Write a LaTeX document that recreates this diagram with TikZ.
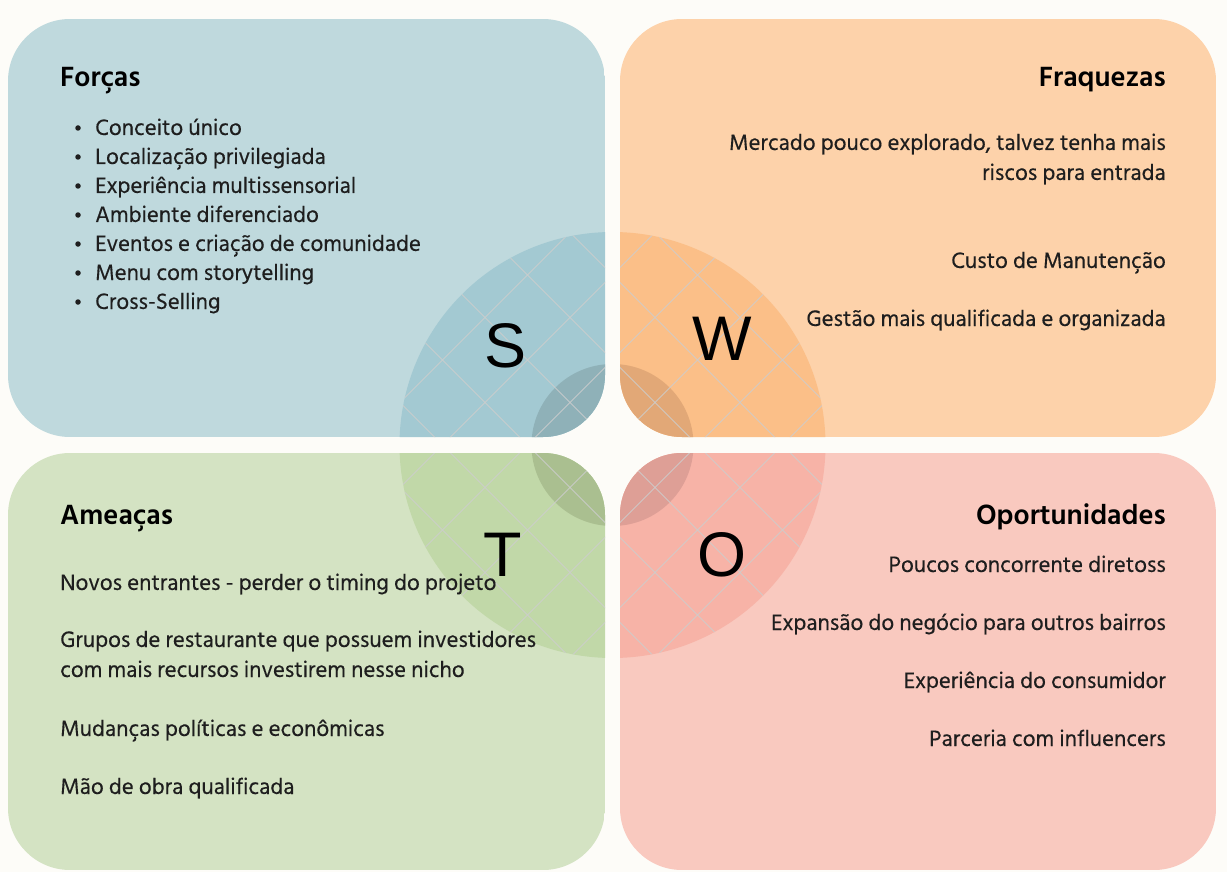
\documentclass[tikz,border=0pt]{standalone}
\usepackage{fontspec}
\setmainfont{Hind Siliguri}
\newfontfamily\bodyfont{Hind Siliguri}[FakeBold=0.3]
\newfontfamily\letterfont{Liberation Sans}

\definecolor{pagebg}{HTML}{FDFCF8}
\definecolor{sbox}{HTML}{BFD9DD}
\definecolor{sring}{HTML}{A3C9D2}
\definecolor{score}{HTML}{8FB1B8}
\definecolor{wbox}{HTML}{FDD2AA}
\definecolor{wring}{HTML}{FBBF88}
\definecolor{wcore}{HTML}{E2A877}
\definecolor{tbox}{HTML}{D4E3C3}
\definecolor{tring}{HTML}{C1D8A8}
\definecolor{tcore}{HTML}{AABF90}
\definecolor{obox}{HTML}{F9C9BF}
\definecolor{oring}{HTML}{F7B3A7}
\definecolor{ocore}{HTML}{DE9F96}
\definecolor{gridgray}{HTML}{CDCDCD}
\definecolor{bodytext}{HTML}{1E1E1E}

% one quadrant: rounded panel with its slice of the central disc and lattice
\newcommand\swotpanel[5]{%
  \begin{scope}
    \clip[rounded corners=62pt] #1 rectangle #2;
    \fill[#3] #1 rectangle #2;
    \fill[#4] (612.5,445) circle (213);
    \fill[#5] (612.5,445) circle (81);
    \begin{scope}
      \clip (612.5,445) circle (213);
      \foreach \k in {-3,...,3}{
        \draw[lattice] (350,{350-167.5-85*\k}) -- (880,{880-167.5-85*\k});
        \draw[lattice] (350,{1057.5+85*\k-350}) -- (880,{1057.5+85*\k-880});
      }
    \end{scope}
  \end{scope}}

\begin{document}
\begin{tikzpicture}[x=1pt,y=-1pt,
  lattice/.style={draw=gridgray, line width=0.8pt, opacity=0.85},
  body/.style={font=\bodyfont\fontsize{22.8}{26}\selectfont, text=bodytext, inner sep=0pt},
  heading/.style={font=\fontsize{28.5}{32}\selectfont\bfseries, text=black, inner sep=0pt},
  letter/.style={font=\letterfont\fontsize{63}{70}\selectfont, text=black, inner sep=0pt},
  dot/.style={circle, fill=bodytext, inner sep=0pt, minimum size=5.5pt}]

\fill[pagebg] (0,0) rectangle (1227,872);
\useasboundingbox (0,0) rectangle (1227,872);

\swotpanel{(8,19)}{(605,437)}{sbox}{sring}{score}
\swotpanel{(620,19)}{(1216,437)}{wbox}{wring}{wcore}
\swotpanel{(8,453)}{(605,870)}{tbox}{tring}{tcore}
\swotpanel{(620,453)}{(1216,870)}{obox}{oring}{ocore}

% letters
\node[letter] (S) at (506,346) {S};
\node[letter] (W) at (722,339) {W};
\node[letter] (T) at (503,555) {T};
\node[letter] (O) at (722,555) {O};

% Forças
\node[heading, anchor=base west] (forcas) at (60,87) {Forças};
\foreach \txt [count=\i] in {Conceito único, Localização privilegiada,
  Experiência multissensorial, Ambiente diferenciado,
  Eventos e criação de comunidade, Menu com storytelling, Cross-Selling}{
  \node[body, anchor=base west] (f\i) at (95,{135+29*(\i-1)}) {\txt};
  \node[dot] (fd\i) at (78,{128+29*(\i-1)}) {};
}

% Fraquezas
\node[heading, anchor=base east] (fraquezas) at (1166,87) {Fraquezas};
\node[body, anchor=base east] (w1a) at (1166,150) {Mercado pouco explorado, talvez tenha mais};
\node[body, anchor=base east] (w1b) at (1166,180) {riscos para entrada};
\node[body, anchor=base east] (w2) at (1166,268) {Custo de Manutenção};
\node[body, anchor=base east] (w3) at (1166,326) {Gestão mais qualificada e organizada};

% Ameaças
\node[heading, anchor=base west] (ameacas) at (60,524) {Ameaças};
\node[body, anchor=base west] (t1) at (60,590) {Novos entrantes - perder o timing do projeto};
\node[body, anchor=base west] (t2a) at (60,647) {Grupos de restaurante que possuem investidores};
\node[body, anchor=base west] (t2b) at (60,677) {com mais recursos investirem nesse nicho};
\node[body, anchor=base west] (t3) at (60,736) {Mudanças políticas e econômicas};
\node[body, anchor=base west] (t4) at (60,794) {Mão de obra qualificada};

% Oportunidades
\node[heading, anchor=base east] (oport) at (1166,524) {Oportunidades};
\node[body, anchor=base east] (o1) at (1166,572) {Poucos concorrente diretoss};
\node[body, anchor=base east] (o2) at (1166,630) {Expansão do negócio para outros bairros};
\node[body, anchor=base east] (o3) at (1166,688) {Experiência do consumidor};
\node[body, anchor=base east] (o4) at (1166,746) {Parceria com influencers};
\end{tikzpicture}
\end{document}
